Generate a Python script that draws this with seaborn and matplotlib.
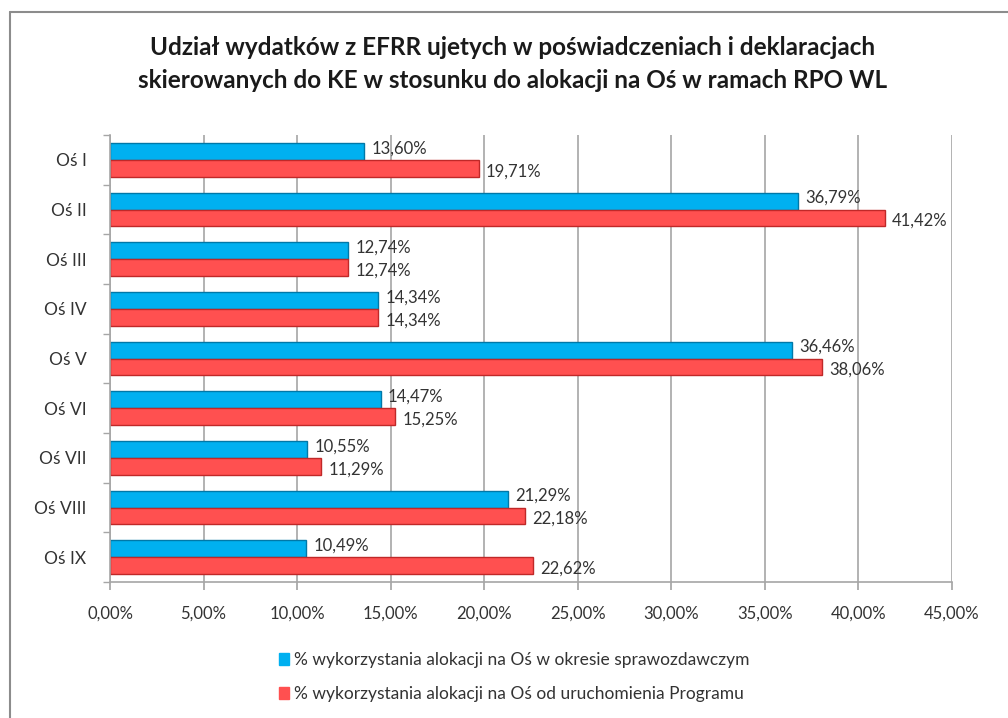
import matplotlib
matplotlib.use("Agg")
import matplotlib.pyplot as plt
import seaborn as sns
import pandas as pd
from matplotlib.lines import Line2D
from matplotlib.patches import Patch

categories = ["Oś I", "Oś II", "Oś III", "Oś IV", "Oś V", "Oś VI", "Oś VII", "Oś VIII", "Oś IX"]
series_names = ["% wykorzystania alokacji na Oś w okresie sprawozdawczym",
                "% wykorzystania alokacji na Oś od uruchomienia Programu"]
okres = [13.60, 36.79, 12.74, 14.34, 36.46, 14.47, 10.55, 21.29, 10.49]
od_uruch = [19.71, 41.42, 12.74, 14.34, 38.06, 15.25, 11.29, 22.18, 22.62]
xticks = [0, 5, 10, 15, 20, 25, 30, 35, 40, 45]
title = ("Udział wydatków z EFRR ujetych w poświadczeniach i deklaracjach\n"
         "skierowanych do KE w stosunku do alokacji na Oś w ramach RPO WL")

colors = ["#00B0F0", "#FF5050"]
edge = ["#0078A8", "#C02828"]

sns.set_theme(style="white")
plt.rcParams['font.family'] = ['Lato', 'DejaVu Sans']

df = pd.DataFrame({
    "cat": categories * 2,
    "val": okres + od_uruch,
    "ser": [series_names[0]] * len(categories) + [series_names[1]] * len(categories),
})

fig = plt.figure(figsize=(10.08, 7.18), dpi=100)
ax = fig.add_axes([110 / 1008, 1 - 582 / 718, (952 - 110) / 1008, (582 - 135) / 718])

sns.barplot(data=df, y="cat", x="val", hue="ser", orient="h", palette=colors,
            width=0.68, ax=ax, legend=False, saturation=1)

for i, cont in enumerate(ax.containers):
    for b in cont:
        b.set_edgecolor(edge[i])
        b.set_linewidth(1.0)

ax.set_xlim(0, 45)
ax.set_ylim(len(categories) - 0.5, -0.5)
ax.set_xticks(xticks)
ax.set_xticklabels([f"{t:.2f}%".replace(".", ",") for t in xticks], fontsize=12, color="#333333")
ax.set_yticks(range(len(categories)))
ax.set_yticklabels(categories, fontsize=12.5, color="#333333")
ax.set_xlabel("")
ax.set_ylabel("")
ax.grid(axis="x", color="#A6A6A6", linewidth=1.2)
ax.set_axisbelow(True)
for s in ["top", "right"]:
    ax.spines[s].set_visible(False)
for s in ["left", "bottom"]:
    ax.spines[s].set_color("#A6A6A6")
    ax.spines[s].set_linewidth(1.2)
ax.tick_params(axis="x", length=6, color="#A6A6A6", pad=11, direction="out", bottom=True)
ax.tick_params(axis="y", length=0, pad=17)
ax.set_yticks([i + 0.5 for i in range(-1, len(categories))], minor=True)
ax.tick_params(axis="y", which="minor", length=5, color="#A6A6A6", left=True)

# data labels
for i, cont in enumerate(ax.containers):
    for b, v in zip(cont, [okres, od_uruch][i]):
        y = b.get_y() + b.get_height() / 2 + (-0.06 if i == 0 else 0.06)
        ax.annotate(f"{v:.2f}%".replace(".", ","), (b.get_width(), y),
                    xytext=(5, 0), textcoords="offset points", va="center", ha="left",
                    fontsize=12, color="#333333")

fig.text(0.508, 1 - 64 / 718, title, ha="center", va="center", fontsize=17.5,
         fontweight="bold", linespacing=1.5, color="#1a1a1a")

handles = [Patch(facecolor=c, edgecolor=c) for c in colors]
fig.legend(handles, series_names, loc="center", bbox_to_anchor=(0.51, 1 - 677 / 718),
           ncol=1, frameon=False, fontsize=12.5, handlelength=0.6, handleheight=0.7,
           handletextpad=0.3, labelspacing=1.0, labelcolor="#333333")

# outer frame (top and left)
fig.add_artist(Line2D([10 / 1008, 1], [1 - 12 / 718, 1 - 12 / 718], color="#8C8C8C", lw=1.5,
                      transform=fig.transFigure))
fig.add_artist(Line2D([10 / 1008, 10 / 1008], [1 - 12 / 718, 0], color="#8C8C8C", lw=1.5,
                      transform=fig.transFigure))

fig.savefig("out.png", dpi=100)
